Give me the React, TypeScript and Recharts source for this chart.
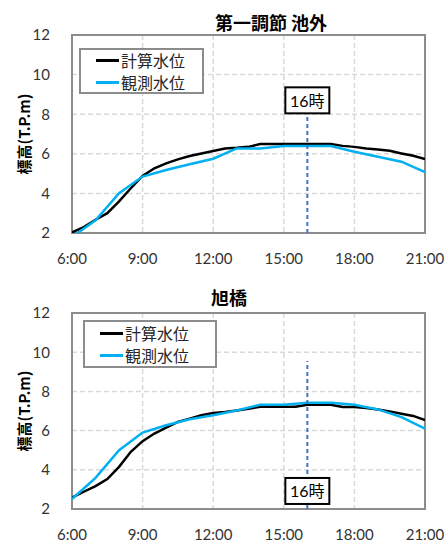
import {
  ComposedChart,
  Line,
  XAxis,
  YAxis,
  CartesianGrid,
  ReferenceLine,
  ReferenceArea,
  ReferenceDot,
  Legend,
} from "recharts"

// time axis (hours)
const calcHours = [
  6, 6.5, 7, 7.5, 8, 8.5, 9, 9.5, 10, 10.5, 11, 11.5, 12, 12.5, 13, 13.5,
  14, 14.5, 15, 15.5, 16, 16.5, 17, 17.5, 18, 18.5, 19, 19.5, 20, 20.5, 21,
]
const obsHours = [6, 7, 8, 9, 10, 11, 12, 13, 14, 15, 16, 17, 18, 19, 20, 21]
const xTicks = [6, 9, 12, 15, 18, 21]
const yTicks = [2, 4, 6, 8, 10, 12]
const seriesNames = ["計算水位", "観測水位"]

// 第一調節 池外
const ikeCalc = [
  2.03, 2.3, 2.67, 3.0, 3.6, 4.26, 4.88, 5.27, 5.52, 5.72, 5.89, 6.02, 6.14,
  6.27, 6.3, 6.35, 6.49, 6.49, 6.49, 6.49, 6.49, 6.49, 6.49, 6.4, 6.35, 6.27,
  6.22, 6.15, 6.02, 5.9, 5.73,
]
const ikeObs = [
  1.8, 2.64, 4.01, 4.85, 5.18, 5.47, 5.75, 6.27, 6.27, 6.39, 6.39, 6.39, 6.1,
  5.85, 5.6, 5.07,
]

// 旭橋
const asahiCalc = [
  2.58, 2.88, 3.17, 3.53, 4.15, 4.92, 5.46, 5.85, 6.15, 6.44, 6.61, 6.78, 6.9,
  6.95, 7.03, 7.12, 7.22, 7.22, 7.22, 7.22, 7.32, 7.32, 7.32, 7.2, 7.2, 7.15,
  7.08, 6.98, 6.86, 6.75, 6.54,
]
const asahiObs = [
  2.51, 3.59, 5.0, 5.9, 6.27, 6.58, 6.78, 7.03, 7.32, 7.32, 7.42, 7.42, 7.32,
  7.08, 6.69, 6.1,
]

const toPoints = (hours: number[], vals: number[]) =>
  hours.map((h, i) => ({ h, v: vals[i] }))

const TICK_FONT = "Lato, 'Noto Sans CJK JP', sans-serif"
const JP_FONT = "'Noto Sans CJK JP', sans-serif"

type Props = {
  title: string
  titleX: number
  titleY: number
  calc: number[]
  obs: number[]
  top: number
  bottom: number
  legend: { left: number; top: number; width: number; height: number; row: number }
  lineFrom: number
  lineTo: number
  boxAt: number
}

function WaterChart(p: Props) {
  const renderLegend = (props: any) => {
    const items = [...props.payload].sort(
      (a: any, b: any) => seriesNames.indexOf(a.value) - seriesNames.indexOf(b.value)
    )
    return (
      <div
        style={{
          boxSizing: "border-box",
          width: p.legend.width,
          height: p.legend.height,
          border: "2px solid #8c8c8c",
          background: "#fff",
          display: "flex",
          flexDirection: "column",
          justifyContent: "center",
          paddingLeft: 15,
          fontFamily: JP_FONT,
          fontSize: 16,
          color: "#262626",
        }}
      >
        {items.map((e: any) => (
          <div
            key={e.value}
            style={{ display: "flex", alignItems: "center", height: p.legend.row }}
          >
            <span
              style={{
                display: "inline-block",
                width: 23,
                height: 3,
                background: e.color,
                marginRight: 2,
              }}
            />
            <span style={{ lineHeight: `${p.legend.row}px` }}>{e.value}</span>
          </div>
        ))}
      </div>
    )
  }

  return (
    <div style={{ position: "relative", width: 446, height: 272 }}>
      <div
        style={{
          position: "absolute",
          left: p.titleX - 100,
          width: 200,
          top: p.titleY - 12,
          textAlign: "center",
          fontFamily: JP_FONT,
          fontWeight: 700,
          fontSize: 18,
          lineHeight: "24px",
          color: "#000",
          zIndex: 2,
        }}
      >
        {p.title}
      </div>
      <ComposedChart
        width={446}
        height={272}
        margin={{ top: p.top, right: 21, bottom: 272 - p.bottom - 30, left: 0 }}
      >
        <CartesianGrid stroke="#d9d9d9" strokeWidth={1.5} strokeDasharray="5 3" />
        <XAxis
          dataKey="h"
          type="number"
          domain={[6, 21]}
          ticks={xTicks}
          interval={0}
          tickFormatter={(h: number) => `${h}:00`}
          axisLine={false}
          tickLine={false}
          tickSize={0}
          tickMargin={20}
          height={30}
          tick={{ fontFamily: TICK_FONT, fontSize: 15, fill: "#333" }}
          allowDataOverflow
        />
        <YAxis
          type="number"
          domain={[2, 12]}
          ticks={yTicks}
          interval={0}
          axisLine={false}
          tickLine={false}
          tickSize={0}
          tickMargin={22}
          width={72}
          tick={{ fontFamily: TICK_FONT, fontSize: 15, fill: "#333" }}
          allowDataOverflow
          label={{
            content: () => (
              <text
                x={23}
                y={(p.top + p.bottom) / 2}
                transform={`rotate(-90 23 ${(p.top + p.bottom) / 2})`}
                textAnchor="middle"
                dominantBaseline="central"
                fontFamily={JP_FONT}
                fontWeight={700}
                fontSize={15}
                fill="#000"
              >
                標高(T.P.m)
              </text>
            ),
          }}
        />
        <ReferenceArea
          x1={6}
          x2={21}
          y1={2}
          y2={12}
          fill="none"
          stroke="#8c8c8c"
          strokeWidth={2}
        />
        <Legend
          layout="vertical"
          align="center"
          verticalAlign="middle"
          content={renderLegend}
          wrapperStyle={{
            left: p.legend.left,
            top: p.legend.top,
            width: p.legend.width,
            height: p.legend.height,
          }}
        />
        <Line
          name={seriesNames[0]}
          data={toPoints(calcHours, p.calc)}
          dataKey="v"
          type="linear"
          stroke="#000000"
          strokeWidth={2.5}
          dot={false}
          isAnimationActive={false}
        />
        <Line
          name={seriesNames[1]}
          data={toPoints(obsHours, p.obs)}
          dataKey="v"
          type="linear"
          stroke="#00b0f0"
          strokeWidth={2.5}
          dot={false}
          isAnimationActive={false}
        />
        <ReferenceLine
          segment={[
            { x: 16, y: p.lineFrom },
            { x: 16, y: p.lineTo },
          ]}
          stroke="#4472c4"
          strokeWidth={2}
          strokeDasharray="4 3"
        />
        <ReferenceDot
          x={16}
          y={p.boxAt}
          shape={(s: any) => (
            <g>
              <rect
                x={s.cx - 22}
                y={s.cy - 13}
                width={44}
                height={26}
                fill="#fff"
                stroke="#000"
                strokeWidth={2}
              />
              <text
                x={s.cx}
                y={s.cy}
                textAnchor="middle"
                dominantBaseline="central"
                fontFamily={TICK_FONT}
                fontSize={16}
                fill="#000"
              >
                16時
              </text>
            </g>
          )}
        />
      </ComposedChart>
    </div>
  )
}

export default function App() {
  return (
    <div style={{ position: "absolute", left: 0, top: 0, width: 446, height: 544, background: "#fff" }}>
      <WaterChart
        title="第一調節 池外"
        titleX={271}
        titleY={22}
        calc={ikeCalc}
        obs={ikeObs}
        top={35}
        bottom={233}
        legend={{ left: 79, top: 48, width: 125, height: 46, row: 22 }}
        lineFrom={2}
        lineTo={7.95}
        boxAt={8.7}
      />
      <WaterChart
        title="旭橋"
        titleX={229}
        titleY={25}
        calc={asahiCalc}
        obs={asahiObs}
        top={41}
        bottom={237}
        legend={{ left: 83, top: 48, width: 134, height: 48, row: 22 }}
        lineFrom={2}
        lineTo={9.55}
        boxAt={2.92}
      />
    </div>
  )
}
